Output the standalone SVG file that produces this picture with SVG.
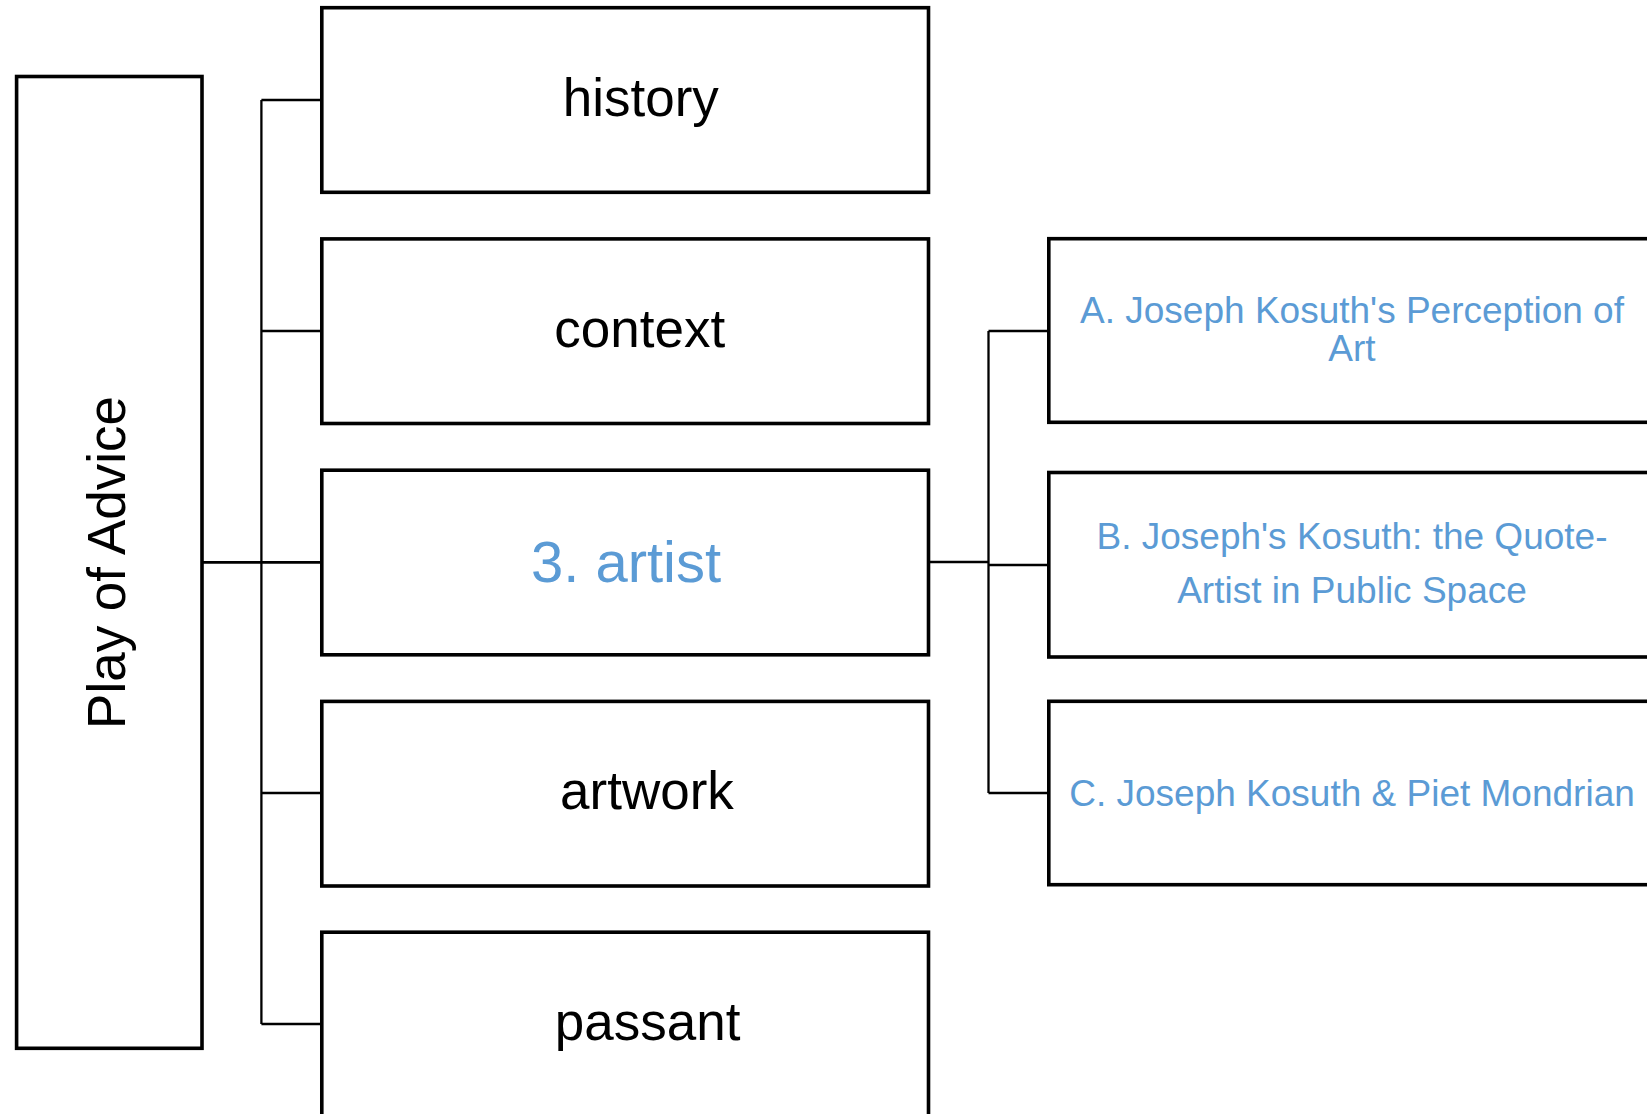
<svg xmlns="http://www.w3.org/2000/svg" width="1647" height="1114" viewBox="0 0 1647 1114">
  <style>
    .box { fill: #ffffff; stroke: #000000; stroke-width: 3.6; }
    .wire { fill: none; stroke: #000000; stroke-width: 2.3; }
    .lbl { font-family: "Liberation Sans", Arial, sans-serif; font-size: 53px; fill: #000000; text-anchor: middle; }
    .hl { fill: #5b9bd5; }
    .sub { font-family: "Liberation Sans", Arial, sans-serif; font-size: 37px; fill: #5b9bd5; text-anchor: middle; }
  </style>
  <rect width="1647" height="1114" fill="#ffffff"/>

  <!-- connectors -->
  <g id="connectors">
    <path class="wire" d="M202,562.3 H321.8" style="stroke-width:2.7"/>
    <path class="wire" d="M261.4,100 V1024"/>
    <path class="wire" d="M261.4,100 H321.8"/>
    <path class="wire" d="M261.4,331 H321.8"/>
    <path class="wire" d="M261.4,793 H321.8"/>
    <path class="wire" d="M261.4,1024 H321.8"/>
    <path class="wire" d="M928.5,562 H988.5" style="stroke-width:2.7"/>
    <path class="wire" d="M988.5,331 V793"/>
    <path class="wire" d="M988.5,331 H1048.8"/>
    <path class="wire" d="M988.5,565 H1048.8"/>
    <path class="wire" d="M988.5,793 H1048.8"/>
  </g>

  <!-- root -->
  <g id="root">
    <rect class="box" x="16.6" y="76.5" width="185.4" height="971.8"/>
    <text class="lbl" transform="translate(125,562.5) rotate(-90)">Play of Advice</text>
  </g>

  <!-- first level -->
  <g id="history">
    <rect class="box" x="321.8" y="7.7" width="606.7" height="184.6"/>
    <text class="lbl" x="640.8" y="116">history</text>
  </g>
  <g id="context">
    <rect class="box" x="321.8" y="238.9" width="606.7" height="184.6"/>
    <text class="lbl" x="639.7" y="347">context</text>
  </g>
  <g id="artist">
    <rect class="box" x="321.8" y="470.2" width="606.7" height="184.6"/>
    <text class="lbl hl" x="626" y="581.5" style="font-size:58px">3. artist</text>
  </g>
  <g id="artwork">
    <rect class="box" x="321.8" y="701.4" width="606.7" height="184.6"/>
    <text class="lbl" x="647" y="809">artwork</text>
  </g>
  <g id="passant">
    <rect class="box" x="321.8" y="932.2" width="606.7" height="184.6"/>
    <text class="lbl" x="647.6" y="1040">passant</text>
  </g>

  <!-- second level under "3. artist" -->
  <g id="sub-a">
    <rect class="box" x="1048.8" y="238.7" width="606.2" height="183.6"/>
    <text class="sub" x="1352"><tspan x="1352" y="323.3">A. Joseph Kosuth's Perception of</tspan><tspan x="1352" y="361.3">Art</tspan></text>
  </g>
  <g id="sub-b">
    <rect class="box" x="1048.8" y="472.5" width="606.2" height="184.5"/>
    <text class="sub" x="1352"><tspan x="1352" y="549.3">B. Joseph's Kosuth: the Quote-</tspan><tspan x="1352" y="602.7">Artist in Public Space</tspan></text>
  </g>
  <g id="sub-c">
    <rect class="box" x="1048.8" y="701.3" width="606.2" height="183.4"/>
    <text class="sub" x="1352" y="805.5">C. Joseph Kosuth &amp; Piet Mondrian</text>
  </g>
</svg>
